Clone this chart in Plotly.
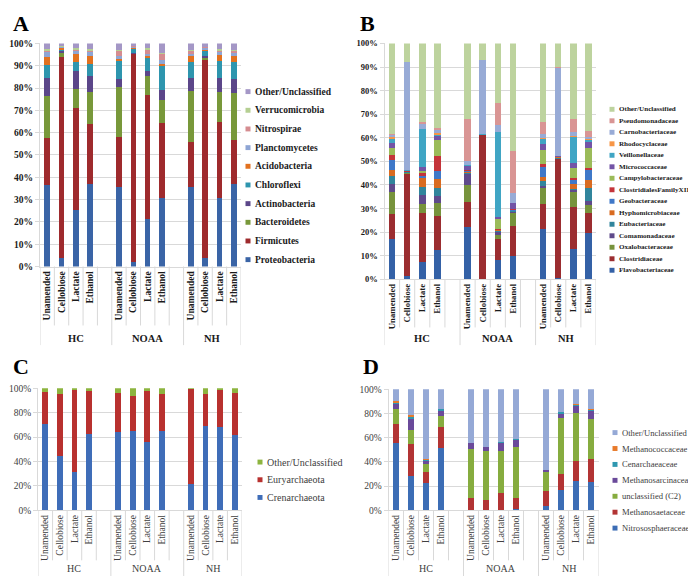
import plotly.graph_objects as go

W, H = 696, 576
SERIF = "Liberation Serif"
GRID = "#d9d9d9"

groups = ["HC", "NOAA", "NH"]
treatments = ["Unamended", "Cellobiose", "Lactate", "Ethanol"]

# ---------------------------------------------------------------------------
# Panel A - bacterial phyla (bottom of the stack first)
# ---------------------------------------------------------------------------
a_names = ["Proteobacteria", "Firmicutes", "Bacteroidetes", "Actinobacteria", "Chloroflexi",
           "Acidobacteria", "Planctomycetes", "Nitrospirae", "Verrucomicrobia", "Other/Unclassified"]
a_proteobacteria = [36.5, 3.8, 25.3, 37.2, 35.5, 2.0, 21.3, 30.7, 35.5, 3.8, 30.6, 37.0]
a_firmicutes = [21.0, 90.2, 45.8, 26.9, 22.4, 93.1, 55.7, 33.8, 20.5, 88.8, 34.0, 19.6]
a_bacteroidetes = [18.8, 1.8, 8.5, 14.0, 22.8, 0.3, 8.4, 10.0, 22.5, 0.7, 13.8, 21.2]
a_actinobacteria = [8.0, 0.9, 8.2, 7.2, 3.5, 0.3, 2.3, 4.8, 5.9, 1.2, 6.3, 6.3]
a_chloroflexi = [6.0, 0.6, 4.1, 5.4, 7.8, 1.8, 5.9, 10.4, 7.5, 1.9, 7.3, 7.8]
a_acidobacteria = [3.8, 0.5, 3.2, 3.6, 1.2, 0.3, 0.7, 1.2, 2.4, 0.9, 3.0, 2.6]
a_planctomycetes = [1.9, 0.5, 1.4, 1.7, 1.2, 0.5, 0.8, 1.5, 1.2, 0.6, 1.0, 1.3]
a_nitrospirae = [0.8, 0.3, 0.8, 0.8, 2.2, 0.5, 2.2, 2.8, 1.0, 0.4, 0.8, 0.7]
a_verrucomicrobia = [0.8, 0.3, 0.5, 0.6, 0.5, 0.2, 0.5, 0.5, 0.6, 0.3, 0.6, 0.7]
a_other = [2.4, 1.1, 2.2, 2.6, 2.9, 1.0, 2.2, 4.3, 2.9, 1.4, 2.6, 2.8]
a_values = [a_proteobacteria, a_firmicutes, a_bacteroidetes, a_actinobacteria, a_chloroflexi,
            a_acidobacteria, a_planctomycetes, a_nitrospirae, a_verrucomicrobia, a_other]
a_colors = ["#3a64a6", "#9e2a2d", "#78983a", "#5b4689", "#2e95ae",
            "#e2711f", "#8ea5d4", "#d58c90", "#b5cf92", "#a497c6"]

# ---------------------------------------------------------------------------
# Panel B - bacterial families
# ---------------------------------------------------------------------------
b_names = ["Flavobacteriaceae", "Clostridiaceae", "Oxalobacteraceae", "Comamonadaceae",
           "Eubacteriaceae", "Hyphomicrobiaceae", "Geobacteraceae", "ClostridialesFamilyXII",
           "Campylobacteraceae", "Micrococcaceae", "Veillonellaceae", "Rhodocyclaceae",
           "Carnobacteriaceae", "Pseudomonadaceae", "Other/Unclassified"]
b_flavobacteriaceae = [17.2, 1.5, 7.5, 12.5, 22.3, 0.3, 8.3, 9.7, 21.3, 0.5, 13.0, 19.7]
b_clostridiaceae = [10.6, 43.0, 20.8, 14.2, 10.5, 60.7, 8.9, 13.1, 10.7, 50.5, 17.8, 8.3]
b_oxalobacteraceae = [9.1, 0.4, 3.8, 5.7, 7.2, 0.05, 1.5, 5.2, 6.7, 0.1, 6.1, 3.5]
b_comamonadaceae = [3.4, 0.3, 3.5, 2.9, 4.8, 0.05, 1.5, 0.6, 0.8, 0.1, 0.8, 1.7]
b_eubacteriaceae = [3.7, 0.2, 3.7, 3.3, 0.4, 0.05, 0.3, 0.2, 2.3, 0.1, 0.8, 5.6]
b_hyphomicrobiaceae = [2.5, 0.2, 3.6, 3.8, 0.3, 0.05, 0.3, 0.2, 1.7, 0.5, 1.8, 3.2]
b_geobacteraceae = [4.2, 0.1, 0.8, 3.5, 0.5, 0.05, 0.2, 0.2, 4.2, 0.1, 1.9, 4.3]
b_clostridiales_xii = [2.1, 0.2, 1.5, 6.2, 0.3, 0.05, 0.5, 0.5, 1.0, 0.1, 0.6, 0.9]
b_campylobacteraceae = [2.7, 0.1, 0.6, 6.9, 0.2, 0.05, 4.0, 0.3, 6.1, 0.05, 4.4, 8.6]
b_micrococcaceae = [2.4, 0.1, 1.8, 1.6, 1.5, 0.05, 0.8, 2.2, 2.4, 0.05, 2.3, 2.3]
b_veillonellaceae = [1.4, 0.1, 16.0, 0.5, 0.3, 0.05, 36.0, 0.2, 2.3, 0.05, 11.0, 1.0]
b_rhodocyclaceae = [1.1, 0.1, 0.3, 0.9, 0.2, 0.05, 0.3, 0.1, 0.5, 0.15, 0.3, 0.5]
b_carnobacteriaceae = [0.6, 45.8, 2.0, 1.1, 1.8, 31.4, 2.7, 4.0, 1.5, 37.5, 1.7, 0.9]
b_pseudomonadaceae = [0.5, 0.1, 0.6, 1.2, 17.7, 0.1, 9.5, 18.0, 5.3, 0.1, 5.5, 2.3]
b_other = [38.5, 7.8, 33.5, 35.7, 32.0, 7.0, 25.2, 45.5, 33.2, 10.1, 32.0, 37.2]
b_values = [b_flavobacteriaceae, b_clostridiaceae, b_oxalobacteraceae, b_comamonadaceae,
            b_eubacteriaceae, b_hyphomicrobiaceae, b_geobacteraceae, b_clostridiales_xii,
            b_campylobacteraceae, b_micrococcaceae, b_veillonellaceae, b_rhodocyclaceae,
            b_carnobacteriaceae, b_pseudomonadaceae, b_other]
b_colors = ["#3461a6", "#9b2d30", "#77933c", "#5f4a8b", "#31859c", "#d96b20", "#3f78c8",
            "#c4343a", "#9bbb59", "#7354a6", "#40a5c4", "#f79646", "#98abd6", "#d99594", "#bdd39e"]

# ---------------------------------------------------------------------------
# Panel C - archaeal phyla
# ---------------------------------------------------------------------------
c_names = ["Crenarchaeota", "Euryarchaeota", "Other/Unclassified"]
c_crenarchaeota = [70.8, 44.5, 31.2, 62.5, 64.0, 65.0, 56.0, 65.0, 21.5, 69.5, 68.0, 62.0]
c_euryarchaeota = [26.2, 51.0, 67.3, 35.0, 31.8, 28.8, 41.8, 30.3, 78.3, 25.5, 30.5, 34.3]
c_other = [3.0, 4.5, 1.5, 2.5, 4.2, 6.2, 2.2, 4.7, 0.2, 5.0, 1.5, 3.7]
c_values = [c_crenarchaeota, c_euryarchaeota, c_other]
c_colors = ["#3f6db8", "#b8312f", "#8db43f"]

# ---------------------------------------------------------------------------
# Panel D - archaeal families
# ---------------------------------------------------------------------------
d_names = ["Nitrososphaeraceae", "Methanosaetaceae", "unclassified (C2)", "Methanosarcinaceae",
           "Cenarchaeaceae", "Methanococcaceae", "Other/Unclassified"]
d_nitrososphaeraceae = [56.0, 28.0, 22.5, 51.5, 0.3, 0.2, 0.3, 0.7, 3.5, 17.0, 24.5, 23.0]
d_methanosaetaceae = [15.0, 27.0, 9.5, 17.5, 9.7, 8.0, 13.7, 9.3, 12.0, 13.0, 16.5, 19.3]
d_unclassified_c2 = [12.5, 11.3, 6.5, 9.0, 40.5, 40.5, 34.7, 42.0, 16.5, 46.5, 39.5, 33.0]
d_methanosarcinaceae = [4.5, 8.9, 2.0, 4.5, 5.0, 3.5, 7.3, 6.5, 1.3, 3.5, 5.5, 6.7]
d_cenarchaeaceae = [1.0, 2.2, 1.0, 1.0, 0.3, 0.3, 0.3, 0.3, 0.2, 1.2, 1.2, 1.3]
d_methanococcaceae = [1.0, 1.3, 0.5, 0.5, 0.2, 0.2, 0.2, 0.2, 0.1, 0.3, 0.8, 0.5]
d_other = [10.0, 21.3, 58.0, 16.0, 44.0, 47.3, 43.5, 41.0, 66.4, 18.5, 12.0, 16.2]
d_values = [d_nitrososphaeraceae, d_methanosaetaceae, d_unclassified_c2, d_methanosarcinaceae,
            d_cenarchaeaceae, d_methanococcaceae, d_other]
d_colors = ["#3c6db5", "#b23434", "#86ac3f", "#6a4a9a", "#2f98b0", "#e87a2a", "#95a9d6"]

# ---------------------------------------------------------------------------
# Category axis: 4 treatments per site, an empty slot between sites
# ---------------------------------------------------------------------------
x_keys, x_text, group_span = [], [], []
for gi, g in enumerate(groups):
    start = len(x_keys)
    for t in treatments:
        x_keys.append(g + "|" + t)
        x_text.append(t)
    if gi < len(groups) - 1:
        x_keys.append(g + "|")
        x_text.append("")
    group_span.append((start, len(x_keys) - 1))


def pad(vals):
    it = iter(vals)
    return [None if k.endswith("|") else next(it) for k in x_keys]


def px(x):
    return x / W


def py(y):
    return 1 - y / H


# layout of the four panels in pixels (left, right, top, bottom)
panels = [
    dict(letter="A", n="", names=a_names, values=a_values, colors=a_colors, box=(32, 233, 31, 258),
         dtick=10, bold=True, tick=9.5, xtick=9.5, barw=0.39, sub_end=318, grp_end=338, grp_y=331,
         grp_font=10.5, letter_xy=(3, 11), leg_x=240, leg_y0=80, leg_dy=19, leg_font=9.5),
    dict(letter="B", n="2", names=b_names, values=b_values, colors=b_colors, box=(376.5, 588, 31, 271),
         dtick=10, bold=True, tick=8.5, xtick=8.8, barw=0.43, sub_end=320, grp_end=338, grp_y=331,
         grp_font=10.5, letter_xy=(350, 11), leg_x=604, leg_y0=98, leg_dy=11.7, leg_font=7.1),
    dict(letter="C", n="3", names=c_names, values=c_values, colors=c_colors, box=(30, 234, 382, 506),
         dtick=20, bold=False, tick=9.5, xtick=9.5, barw=0.39, sub_end=557, grp_end=576, grp_y=565,
         grp_font=10, letter_xy=(3, 360), leg_x=252, leg_y0=457, leg_dy=18, leg_font=10),
    dict(letter="D", n="4", names=d_names, values=d_values, colors=d_colors, box=(380.5, 590.5, 383, 506),
         dtick=20, bold=False, tick=9.5, xtick=9.5, barw=0.38, sub_end=557, grp_end=576, grp_y=565,
         grp_font=10, letter_xy=(353, 360), leg_x=607, leg_y0=427, leg_dy=16.2, leg_font=8.6),
]

fig = go.Figure()
layout = dict(
    width=W, height=H, margin=dict(l=0, r=0, t=0, b=0),
    paper_bgcolor="white", plot_bgcolor="white",
    barmode="stack", showlegend=False,
)
shapes, annotations = [], []

for p in panels:
    xa, ya = "x" + p["n"], "y" + p["n"]
    left, right, top, bottom = p["box"]
    weight = "bold" if p["bold"] else "normal"
    txt_col = "#1a1a1a" if p["bold"] else "#404040"

    for name, vals, col in zip(p["names"], p["values"], p["colors"]):
        fig.add_trace(go.Bar(
            x=x_keys, y=pad(vals), name=name, width=p["barw"],
            marker=dict(color=col, line=dict(width=0)),
            xaxis=xa, yaxis=ya, hoverinfo="skip",
        ))

    layout["xaxis" + p["n"]] = dict(
        domain=[px(left), px(right)], anchor=ya, type="category",
        categoryorder="array", categoryarray=x_keys, range=[-0.5, len(x_keys) - 0.5],
        tickmode="array", tickvals=x_keys, ticktext=x_text, tickangle=-90,
        tickfont=dict(family=SERIF, size=p["xtick"], color=txt_col, weight=weight),
        showline=True, linecolor=GRID, showgrid=False, ticks="", fixedrange=True,
    )
    layout["yaxis" + p["n"]] = dict(
        domain=[py(bottom), py(top)], anchor=xa, range=[0, 100], dtick=p["dtick"],
        ticksuffix="%", showgrid=True, gridcolor=GRID, gridwidth=1, zeroline=False,
        showline=True, linecolor=GRID, ticks="outside", ticklen=4, tickcolor=GRID,
        tickfont=dict(family=SERIF, size=p["tick"], color=txt_col, weight=weight),
        fixedrange=True,
    )

    # category separators below the axis, longer ones between sites
    h = bottom - top
    site_edges = {-0.5} | {e + 0.5 for _, e in group_span}
    for k in range(len(x_keys) + 1):
        xv = k - 0.5
        end = p["grp_end"] if xv in site_edges else p["sub_end"]
        shapes.append(dict(type="line", xref=xa, yref=ya + " domain", x0=xv, x1=xv,
                           y0=0, y1=-(end - bottom) / h, line=dict(color=GRID, width=1)))

    for g, (s, e) in zip(groups, group_span):
        annotations.append(dict(
            x=(s + e) / 2, y=py(p["grp_y"]), xref=xa, yref="paper", text=g,
            showarrow=False, xanchor="center", yanchor="middle",
            font=dict(family=SERIF, size=p["grp_font"], color=txt_col, weight=weight),
        ))

    lx, ly = p["letter_xy"]
    annotations.append(dict(
        x=px(lx), y=py(ly), xref="paper", yref="paper", text="<b>" + p["letter"] + "</b>",
        showarrow=False, xanchor="left", yanchor="middle",
        font=dict(family=SERIF, size=22, color="black"),
    ))

    # legend, top entry is the top of the stack
    for i, (name, col) in enumerate(zip(p["names"][::-1], p["colors"][::-1])):
        yy = p["leg_y0"] + i * p["leg_dy"]
        shapes.append(dict(type="rect", xref="paper", yref="paper",
                           x0=px(p["leg_x"] - 2.5), x1=px(p["leg_x"] + 2.5),
                           y0=py(yy + 2.5), y1=py(yy - 2.5),
                           fillcolor=col, line=dict(width=0)))
        annotations.append(dict(
            x=px(p["leg_x"] + 4.5), y=py(yy), xref="paper", yref="paper", text=name,
            showarrow=False, xanchor="left", yanchor="middle",
            font=dict(family=SERIF, size=p["leg_font"], color=txt_col, weight=weight),
        ))

layout["shapes"] = shapes
layout["annotations"] = annotations
fig.update_layout(**layout)

fig.write_html("out.html")
